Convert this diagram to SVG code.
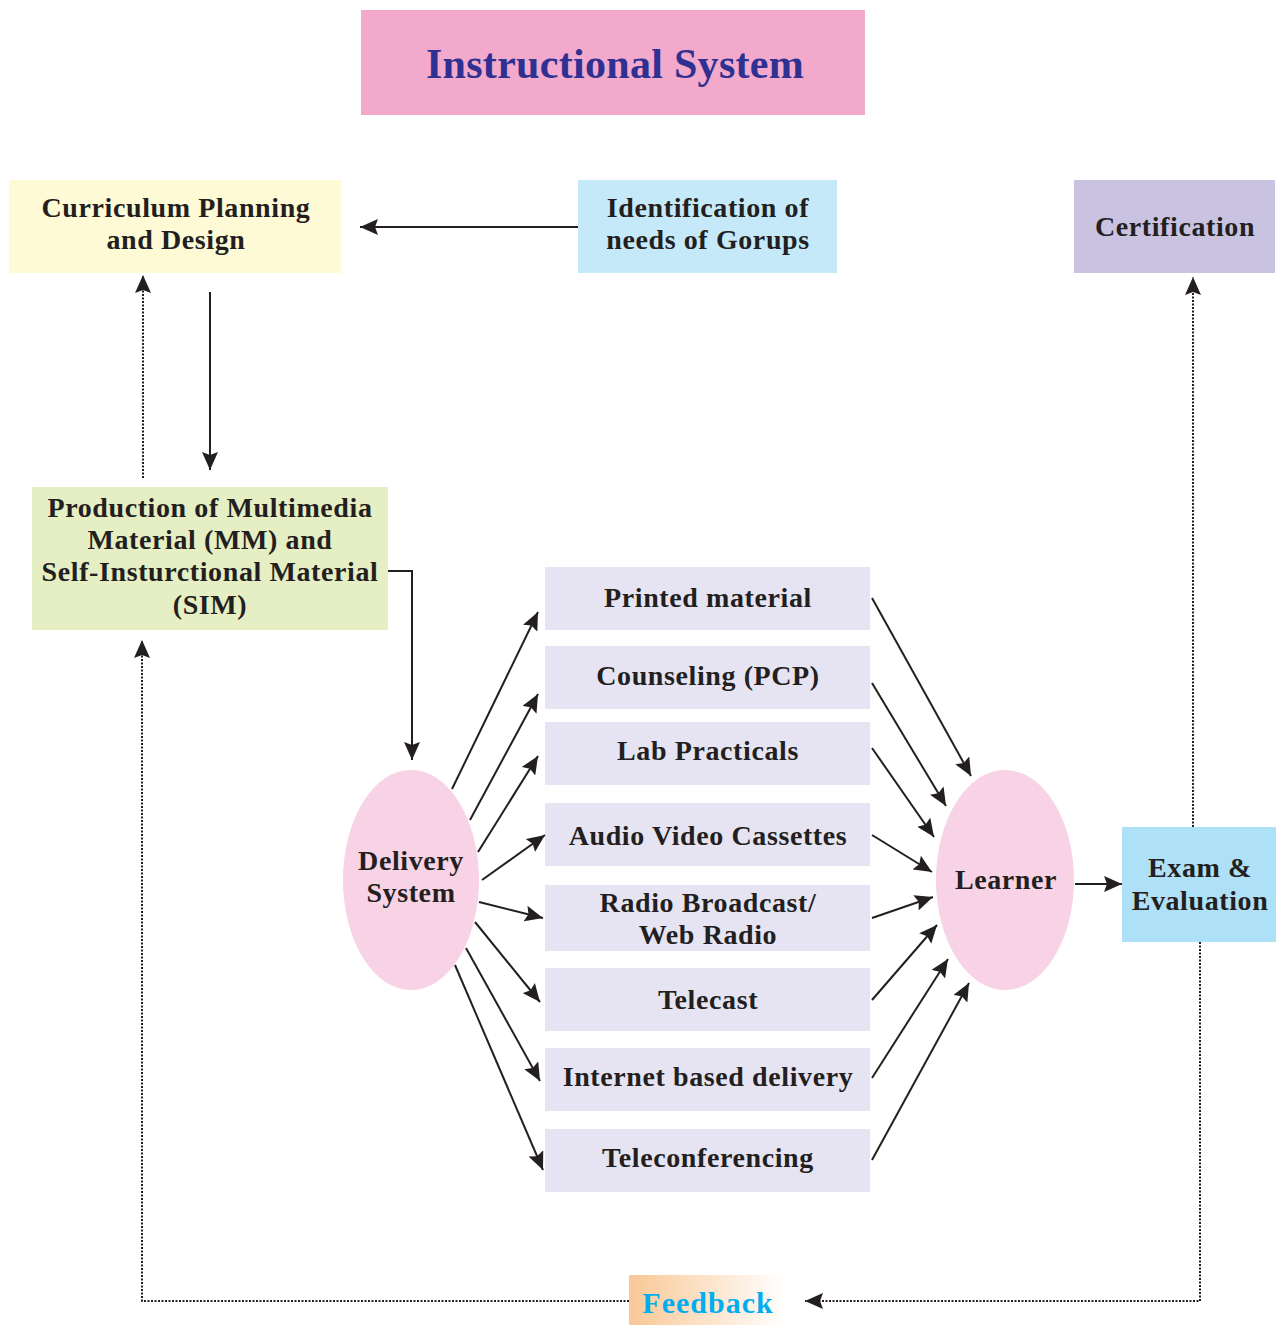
<svg xmlns="http://www.w3.org/2000/svg" width="1276" height="1325" viewBox="0 0 1276 1325">
<style>
text{font-family:"Liberation Serif","Times New Roman",serif;font-weight:bold;fill:#231f20;text-anchor:middle;font-size:28px;letter-spacing:0.6px}
.ln{stroke:#231f20;stroke-width:2;fill:none}
.dt{stroke:#231f20;stroke-width:2;fill:none;stroke-dasharray:2 1.5}
.mid{fill:#e6e4f2}
</style>
<defs>
<marker id="ah" markerUnits="userSpaceOnUse" markerWidth="19" markerHeight="16" refX="18" refY="8" orient="auto">
<path d="M0,0 L18,8 L0,16 L3,8 z" fill="#231f20"/>
</marker>
<linearGradient id="fb" x1="0" x2="1" y1="0" y2="0">
<stop offset="0" stop-color="#f9c896"/>
<stop offset="1" stop-color="#ffffff"/>
</linearGradient>
</defs>
<rect width="1276" height="1325" fill="#fff"/>
<g id="title">
<rect x="361" y="10" width="504" height="105" fill="#f2a9cc"/>
<text x="615" y="78" style="font-size:42px;letter-spacing:0.3px;fill:#2e3192">Instructional System</text>
</g>
<g id="curriculum">
<rect x="9" y="180" width="332" height="93" fill="#fffad6"/>
<text x="176" y="217">Curriculum Planning</text>
<text x="176" y="249">and Design</text>
</g>
<g id="identification">
<rect x="578" y="180" width="259" height="93" fill="#c5e9f8"/>
<text x="708" y="217">Identification of</text>
<text x="708" y="249">needs of Gorups</text>
</g>
<g id="certification">
<rect x="1074" y="180" width="201" height="93" fill="#c9c3e1"/>
<text x="1175" y="236">Certification</text>
</g>
<g id="production">
<rect x="32" y="487" width="356" height="143" fill="#e6eec3"/>
<text x="210" y="517">Production of Multimedia</text>
<text x="210" y="549">Material (MM) and</text>
<text x="210" y="581">Self-Insturctional Material</text>
<text x="210" y="614">(SIM)</text>
</g>
<g id="delivery">
<ellipse cx="411" cy="880" rx="68" ry="110" fill="#f8d3e5"/>
<text x="411" y="870">Delivery</text>
<text x="411" y="902">System</text>
</g>
<g id="learner">
<ellipse cx="1005" cy="880" rx="69" ry="110" fill="#f8d3e5"/>
<text x="1006" y="889">Learner</text>
</g>
<g id="exam">
<rect x="1122" y="827" width="154" height="115" fill="#aee0f7"/>
<text x="1200" y="877">Exam &amp;</text>
<text x="1200" y="910">Evaluation</text>
</g>
<g id="printed"><rect class="mid" x="545" y="567" width="325" height="63"/><text x="708" y="607">Printed material</text></g>
<g id="counseling"><rect class="mid" x="545" y="646" width="325" height="63"/><text x="708" y="685">Counseling (PCP)</text></g>
<g id="lab"><rect class="mid" x="545" y="722" width="325" height="63"/><text x="708" y="760">Lab Practicals</text></g>
<g id="audio"><rect class="mid" x="545" y="803" width="325" height="63"/><text x="708" y="845">Audio Video Cassettes</text></g>
<g id="radio"><rect class="mid" x="545" y="885" width="325" height="66"/><text x="708" y="912">Radio Broadcast/</text><text x="708" y="944">Web Radio</text></g>
<g id="telecast"><rect class="mid" x="545" y="968" width="325" height="63"/><text x="708" y="1009">Telecast</text></g>
<g id="internet"><rect class="mid" x="545" y="1048" width="325" height="63"/><text x="708" y="1086">Internet based delivery</text></g>
<g id="teleconf"><rect class="mid" x="545" y="1129" width="325" height="63"/><text x="708" y="1167">Teleconferencing</text></g>
<g id="feedback">
<rect x="629" y="1275" width="156" height="50" fill="url(#fb)"/>
<text x="708" y="1313" style="fill:#00aeef;font-size:30px;letter-spacing:1px">Feedback</text>
</g>
<g id="connectors">
<line class="ln" x1="578" y1="227" x2="360" y2="227" marker-end="url(#ah)"/>
<line class="ln" x1="210" y1="292" x2="210" y2="470" marker-end="url(#ah)"/>
<line class="dt" x1="143" y1="478" x2="143" y2="275" marker-end="url(#ah)"/>
<polyline class="ln" points="388,571 412,571 412,760" marker-end="url(#ah)"/>
<line class="ln" x1="452" y1="789" x2="538" y2="612" marker-end="url(#ah)"/>
<line class="ln" x1="470" y1="820" x2="538" y2="694" marker-end="url(#ah)"/>
<line class="ln" x1="478" y1="852" x2="538" y2="756" marker-end="url(#ah)"/>
<line class="ln" x1="482" y1="880" x2="545" y2="835" marker-end="url(#ah)"/>
<line class="ln" x1="479" y1="902" x2="543" y2="918" marker-end="url(#ah)"/>
<line class="ln" x1="475" y1="922" x2="540" y2="1002" marker-end="url(#ah)"/>
<line class="ln" x1="466" y1="948" x2="540" y2="1081" marker-end="url(#ah)"/>
<line class="ln" x1="455" y1="965" x2="543" y2="1170" marker-end="url(#ah)"/>
<line class="ln" x1="872" y1="598" x2="971" y2="776" marker-end="url(#ah)"/>
<line class="ln" x1="872" y1="683" x2="946" y2="806" marker-end="url(#ah)"/>
<line class="ln" x1="872" y1="748" x2="934" y2="837" marker-end="url(#ah)"/>
<line class="ln" x1="872" y1="835" x2="932" y2="872" marker-end="url(#ah)"/>
<line class="ln" x1="872" y1="918" x2="933" y2="897" marker-end="url(#ah)"/>
<line class="ln" x1="872" y1="1000" x2="937" y2="925" marker-end="url(#ah)"/>
<line class="ln" x1="872" y1="1078" x2="948" y2="959" marker-end="url(#ah)"/>
<line class="ln" x1="872" y1="1160" x2="969" y2="983" marker-end="url(#ah)"/>
<line class="ln" x1="1075" y1="884" x2="1122" y2="884" marker-end="url(#ah)"/>
<line class="dt" x1="1193" y1="827" x2="1193" y2="277" marker-end="url(#ah)"/>
<polyline class="dt" points="1200,942 1200,1301 805,1301" marker-end="url(#ah)"/>
<polyline class="dt" points="629,1301 142,1301 142,640" marker-end="url(#ah)"/>
</g>
</svg>
